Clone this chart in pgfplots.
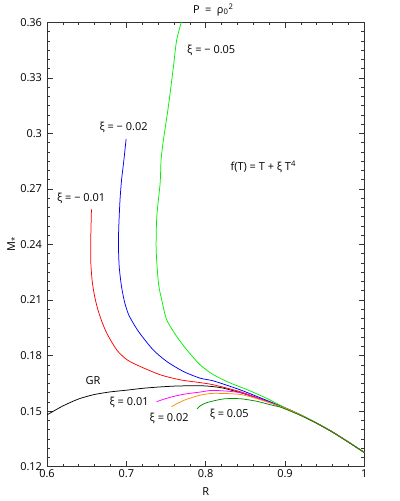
\documentclass[border=0pt]{standalone}
\usepackage{pgfplots}
\pgfplotsset{compat=1.18}
\usepackage{fontspec}
\setmainfont{Open Sans}
\definecolor{cred}{RGB}{255,0,0}
\definecolor{cblue}{RGB}{0,0,255}
\definecolor{cgreen}{RGB}{0,240,0}
\definecolor{cmag}{RGB}{255,0,255}
\definecolor{corange}{RGB}{255,140,0}
\definecolor{cdgreen}{RGB}{0,140,0}
\begin{document}
\begin{tikzpicture}
\useasboundingbox (-47bp,-34.3bp) rectangle (352bp,466.3bp);
\begin{axis}[
  at={(0,0)}, anchor=south west,
  scale only axis, width=317bp, height=444bp,
  xmin=0.6, xmax=1.0, ymin=0.12, ymax=0.36,
  xtick={0.6,0.7,0.8,0.9,1.0},
  xticklabels={0.6,0.7,0.8,0.9,1},
  ytick={0.12,0.15,0.18,0.21,0.24,0.27,0.30,0.33,0.36},
  yticklabels={0.12,0.15,0.18,0.21,0.24,0.27,0.3,0.33,0.36},
  minor x tick num=4, minor y tick num=5,
  tick align=inside,
  major tick length=5.5bp, minor tick length=3bp,
  every tick/.style={black!80, line width=0.6pt},
  axis line style={black!80, line width=0.8pt},
  tick label style={font=\fontsize{11}{13}\selectfont},
  xticklabel style={yshift=1bp},
  yticklabel style={xshift=-1.5bp},
  clip mode=individual,
  every axis plot/.append style={line width=0.75pt, smooth, tension=0.45},
  /pgf/number format/assume math mode=true,
]
% GR
\addplot[black] coordinates {(0.600,0.1480)(0.620,0.1528)(0.640,0.1566)(0.660,0.1590)(0.680,0.1604)(0.700,0.1613)(0.720,0.1623)(0.740,0.1630)(0.760,0.1635)(0.780,0.1637)(0.800,0.1636)(0.820,0.1626)(0.8435,0.1600)(0.860,0.1578)(0.880,0.1549)(0.900,0.1515)(0.920,0.1478)(0.940,0.1435)(0.960,0.1387)(0.980,0.1333)(1.000,0.1277)};
% xi = -0.01
\addplot[cred] coordinates {(0.6560,0.2590)(0.6555,0.2500)(0.6550,0.2400)(0.6552,0.2300)(0.6570,0.2200)(0.6600,0.2120)(0.6640,0.2050)(0.6690,0.1985)(0.6760,0.1915)(0.6880,0.1830)(0.7010,0.1777)(0.7180,0.1740)(0.7430,0.1696)(0.7680,0.1669)(0.7930,0.1654)(0.8100,0.1642)(0.8435,0.1605)(0.8700,0.1565)(0.9000,0.1517)(0.920,0.1478)(0.940,0.1435)(0.960,0.1387)(0.980,0.1333)(1.000,0.1277)};
% xi = -0.02
\addplot[cblue] coordinates {(0.6997,0.2970)(0.6970,0.2860)(0.6940,0.2750)(0.6920,0.2640)(0.6905,0.2500)(0.6900,0.2400)(0.6910,0.2280)(0.6940,0.2170)(0.6980,0.2085)(0.7025,0.2025)(0.7080,0.1980)(0.7170,0.1920)(0.7340,0.1830)(0.7510,0.1768)(0.7720,0.1714)(0.7930,0.1678)(0.8100,0.1663)(0.8435,0.1615)(0.8700,0.1570)(0.9000,0.1518)(0.920,0.1479)(0.940,0.1435)(0.960,0.1387)(0.980,0.1333)(1.000,0.1277)};
% xi = -0.05
\addplot[cgreen] coordinates {(0.7720,0.3640)(0.7636,0.3507)(0.7594,0.3362)(0.7530,0.3146)(0.7468,0.2966)(0.7438,0.2858)(0.7426,0.2732)(0.7384,0.2551)(0.7376,0.2371)(0.7405,0.2191)(0.7446,0.2101)(0.7509,0.1993)(0.7636,0.1903)(0.7762,0.1831)(0.7930,0.1750)(0.8100,0.1696)(0.8310,0.1652)(0.8500,0.1620)(0.8730,0.1577)(0.8940,0.1532)(0.9000,0.1519)(0.920,0.1480)(0.940,0.1436)(0.960,0.1388)(0.980,0.1334)(1.000,0.1278)};
% xi = 0.01
\addplot[cmag] coordinates {(0.738,0.1551)(0.750,0.1568)(0.760,0.1580)(0.775,0.1593)(0.793,0.1603)(0.810,0.1612)(0.8435,0.1600)(0.870,0.1563)(0.900,0.1516)(0.920,0.1478)(0.940,0.1435)(0.960,0.1387)(0.980,0.1333)(1.000,0.1277)};
% xi = 0.02
\addplot[corange] coordinates {(0.757,0.1524)(0.765,0.1543)(0.776,0.1564)(0.793,0.1586)(0.810,0.1596)(0.8435,0.1590)(0.870,0.1560)(0.900,0.1516)(0.920,0.1478)(0.940,0.1435)(0.960,0.1387)(0.980,0.1333)(1.000,0.1277)};
% xi = 0.05
\addplot[cdgreen] coordinates {(0.789,0.1512)(0.793,0.1528)(0.8015,0.1546)(0.8225,0.1566)(0.8435,0.1567)(0.8646,0.1553)(0.881,0.1535)(0.894,0.1522)(0.900,0.1512)(0.920,0.1476)(0.940,0.1434)(0.960,0.1386)(0.980,0.1332)(1.000,0.1276)};

\begin{scope}[every node/.style={font=\fontsize{11}{13}\selectfont}]
\node at (axis cs:0.807,0.345) {ξ = − 0.05};
\node at (axis cs:0.6965,0.3033) {ξ = − 0.02};
\node at (axis cs:0.643,0.265) {ξ = − 0.01};
\node at (axis cs:0.8726,0.2822) {f(T) = T + ξ T\textsuperscript{4}};
\node at (axis cs:0.658,0.1663) {GR};
\node at (axis cs:0.7035,0.1546) {ξ = 0.01};
\node at (axis cs:0.754,0.1458) {ξ = 0.02};
\node at (axis cs:0.8297,0.1483) {ξ = 0.05};
\node at (axis description cs:0.524,1.0286) {P\enspace=\enspace ρ\textsubscript{0}\textsuperscript{2}};
\node at (axis description cs:0.5,-0.0563) {R};
\node[rotate=90] at (axis description cs:-0.110,0.5) {M\textsubscript{*}};
\end{scope}
\end{axis}
\end{tikzpicture}
\end{document}
